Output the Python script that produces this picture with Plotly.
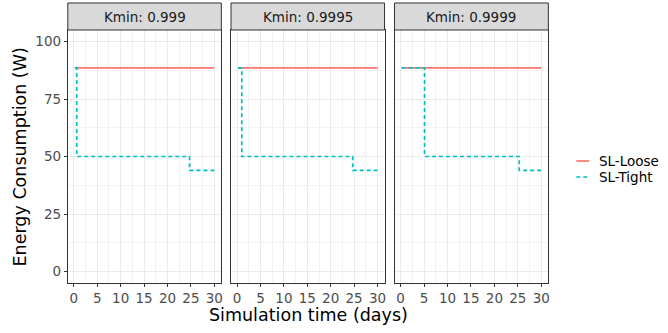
import plotly.graph_objects as go

# ---- data ----
panels = ["Kmin: 0.999", "Kmin: 0.9995", "Kmin: 0.9999"]
loose_x = [0.2, 30]
loose_y = [88.5, 88.5]
tight_x = [
    [0.2, 0.6, 24.7, 30],
    [0.2, 1.0, 24.7, 30],
    [0.2, 5.1, 25.3, 30],
]
tight_y = [88.5, 50, 44, 44]
x_ticks = [0, 5, 10, 15, 20, 25, 30]
y_ticks = [0, 25, 50, 75, 100]
series_names = ["SL-Loose", "SL-Tight"]
colors = ["#F8766D", "#00BFC4"]

W, H = 668, 333
x_px = [(68, 222), (231.7, 385.7), (395.7, 550)]
y_top, y_bot, strip_top = 30, 283, 3

fig = go.Figure()
font = "DejaVu Sans, sans-serif"

for i, name in enumerate(panels):
    xa = "x" if i == 0 else f"x{i+1}"
    ya = "y" if i == 0 else f"y{i+1}"
    fig.add_trace(go.Scatter(x=loose_x, y=loose_y, mode="lines", xaxis=xa, yaxis=ya,
                             line=dict(color=colors[0], width=1.7), showlegend=False,
                             name=series_names[0]))
    fig.add_trace(go.Scatter(x=tight_x[i], y=tight_y, mode="lines", line_shape="hv",
                             xaxis=xa, yaxis=ya,
                             line=dict(color=colors[1], width=1.7, dash="4px,3px"),
                             showlegend=False, name=series_names[1]))
    dom = [x_px[i][0] / W, x_px[i][1] / W]
    common = dict(showline=True, mirror=True, linecolor="#333333", linewidth=1,
                  ticks="outside", ticklen=3, tickcolor="#333333",
                  tickfont=dict(family=font, size=13.5, color="#4D4D4D"),
                  showgrid=True, gridcolor="#EBEBEB", gridwidth=1,
                  minor=dict(showgrid=True, gridcolor="#F3F3F3", gridwidth=1, ticks=""),
                  zeroline=False)
    fig.layout[("xaxis" if i == 0 else f"xaxis{i+1}")] = dict(
        domain=dom, range=[-1.3, 31.5], tickvals=x_ticks, anchor=ya,
        minor_dtick=2.5, minor_tick0=2.5, **common)
    fig.layout[("yaxis" if i == 0 else f"yaxis{i+1}")] = dict(
        domain=[1 - y_bot / H, 1 - y_top / H], range=[-5, 105], tickvals=y_ticks,
        anchor=xa, showticklabels=(i == 0), ticks=("outside" if i == 0 else ""),
        minor_dtick=12.5, minor_tick0=12.5,
        **{k: v for k, v in common.items() if k != "ticks"})
    # strip
    fig.add_shape(type="rect", xref="paper", yref="paper",
                  x0=dom[0], x1=dom[1], y0=1 - y_top / H, y1=1 - strip_top / H,
                  fillcolor="#D9D9D9", line=dict(color="#333333", width=1), layer="above")
    fig.add_annotation(text=name, xref="paper", yref="paper",
                       x=(dom[0] + dom[1]) / 2, y=1 - (y_top + strip_top) / 2 / H,
                       showarrow=False, font=dict(family=font, size=13.5, color="#1A1A1A"),
                       xanchor="center", yanchor="middle")

# axis titles
fig.add_annotation(text="Simulation time (days)", xref="paper", yref="paper",
                   x=(68 + 550) / 2 / W, y=1 - 315 / H, showarrow=False,
                   font=dict(family=font, size=17.5, color="black"),
                   xanchor="center", yanchor="middle")
fig.add_annotation(text="Energy Consumption (W)", xref="paper", yref="paper",
                   x=20 / W, y=1 - (y_top + y_bot) / 2 / H, showarrow=False, textangle=-90,
                   font=dict(family=font, size=17.5, color="black"),
                   xanchor="center", yanchor="middle")

# legend (drawn manually to match short key glyphs)
leg_y = [161, 177]
for j, nm in enumerate(series_names):
    fig.add_shape(type="line", xref="paper", yref="paper",
                  x0=578 / W, x1=591 / W, y0=1 - leg_y[j] / H, y1=1 - leg_y[j] / H,
                  line=dict(color=colors[j], width=1.7, dash=("solid" if j == 0 else "4px,3px")))
    fig.add_annotation(text=nm, xref="paper", yref="paper", x=599 / W, y=1 - leg_y[j] / H,
                       showarrow=False, xanchor="left", yanchor="middle",
                       font=dict(family=font, size=13.5, color="black"))

fig.update_layout(width=W, height=H, margin=dict(l=0, r=0, t=0, b=0),
                  plot_bgcolor="white", paper_bgcolor="white", showlegend=False)
fig.write_html("out.html", config={"displayModeBar": False},
               post_script="document.body.style.margin='0';document.body.style.overflow='hidden';")
